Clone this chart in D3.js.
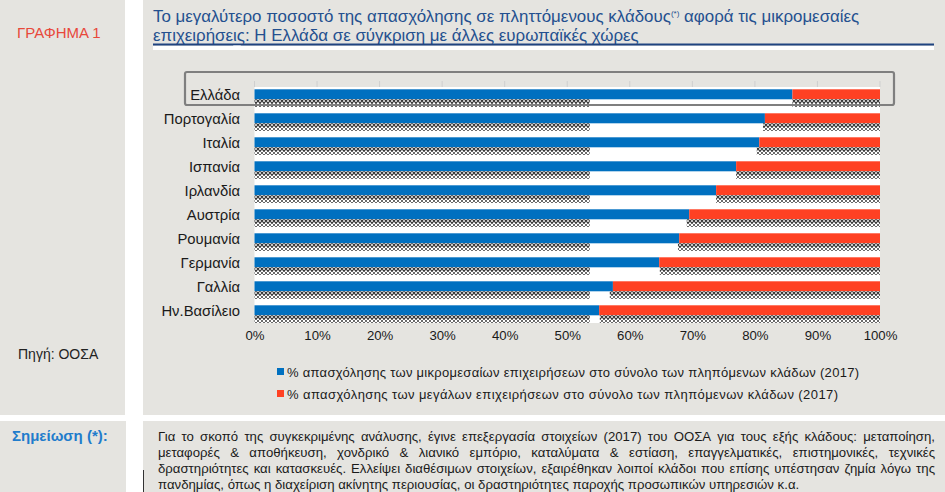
<!DOCTYPE html>
<html><head><meta charset="utf-8">
<script src="https://cdn.jsdelivr.net/npm/d3@7"></script>
<style>body{margin:0;background:#fff;} svg{display:block;font-family:"Liberation Sans",Arial,sans-serif;}</style>
</head><body>
<svg id="c" width="945" height="492"></svg>
<script>
// ---- data ----
const categories = ["Ελλάδα","Πορτογαλία","Ιταλία","Ισπανία","Ιρλανδία","Αυστρία","Ρουμανία","Γερμανία","Γαλλία","Ην.Βασίλειο"];
const smeShare   = [86.0, 81.6, 80.7, 77.0, 73.8, 69.5, 67.9, 64.7, 57.3, 55.1];
const largeShare = [14.0, 18.4, 19.3, 23.0, 26.2, 30.5, 32.1, 35.3, 42.7, 44.9];
const hatchLeftEnd    = [53.6, 53.6, 53.6, 53.6, 53.6, 53.6, 53.6, 53.6, 53.6, 53.6];
const hatchRightStart = [86.0, 81.3, 80.3, 77.0, 73.8, 69.1, 67.7, 64.8, 56.8, 55.2];
const xTicks = [0,10,20,30,40,50,60,70,80,90,100];
const legendLabels = [
  "% απασχόλησης των μικρομεσαίων επιχειρήσεων στο σύνολο των πληπόμενων κλάδων (2017)",
  "% απασχόλησης των μεγάλων επιχειρήσεων στο σύνολο των πληπόμενων κλάδων (2017)"
];
const noteLines = [
  "Για το σκοπό της συγκεκριμένης ανάλυσης, έγινε επεξεργασία στοιχείων (2017) του ΟΟΣΑ για τους εξής κλάδους: μεταποίηση,",
  "μεταφορές & αποθήκευση, χονδρικό & λιανικό εμπόριο, καταλύματα & εστίαση, επαγγελματικές, επιστημονικές, τεχνικές",
  "δραστηριότητες και κατασκευές. Ελλείψει διαθέσιμων στοιχείων, εξαιρέθηκαν λοιποί κλάδοι που επίσης υπέστησαν ζημία λόγω της",
  "πανδημίας, όπως η διαχείριση ακίνητης περιουσίας, οι δραστηριότητες παροχής προσωπικών υπηρεσιών κ.α."
];

const BLUE = "#0070c0", RED = "#ff4123", PANEL = "#e5e4e0";
const svg = d3.select("#c");

// ---- panels ----
svg.append("rect").attr("x",0).attr("y",0).attr("width",125).attr("height",415).attr("fill",PANEL);
svg.append("rect").attr("x",143).attr("y",0).attr("width",802).attr("height",415).attr("fill",PANEL);
svg.append("rect").attr("x",0).attr("y",421).attr("width",126).attr("height",71).attr("fill",PANEL);
svg.append("rect").attr("x",143).attr("y",421).attr("width",802).attr("height",71).attr("fill",PANEL);
svg.append("line").attr("x1",143.5).attr("x2",143.5).attr("y1",470).attr("y2",492).attr("stroke","#333").attr("stroke-width",1);

// ---- left texts ----
svg.append("text").attr("x",17).attr("y",38).attr("font-size",15).attr("fill","#e8483b").text("ΓΡΑΦΗΜΑ 1");
svg.append("text").attr("x",18).attr("y",359).attr("font-size",14).attr("fill","#222").text("Πηγή: ΟΟΣΑ");

// ---- title ----
const title = svg.append("g").attr("fill","#24508f").attr("font-size",16.9);
const t1 = title.append("text").attr("x",153).attr("y",22);
t1.append("tspan").text("Το μεγαλύτερο ποσοστό της απασχόλησης σε πληττόμενους κλάδους");
t1.append("tspan").attr("font-size",8).attr("dy",-6).text("(*)");
t1.append("tspan").attr("dy",6).text(" αφορά τις μικρομεσαίες");
title.append("text").attr("x",153).attr("y",41).text("επιχειρήσεις: Η Ελλάδα σε σύγκριση με άλλες ευρωπαϊκές χώρες");
svg.append("rect").attr("x",153).attr("y",46).attr("width",781).attr("height",4).attr("fill","#fff");
svg.append("rect").attr("x",153).attr("y",43.5).attr("width",781).attr("height",2).attr("fill","#1f4380");
svg.append("path").attr("d","M233,45.5 L241,45.5 L237,50 Z").attr("fill","#fff");

// ---- scales ----
const x = d3.scaleLinear().domain([0,100]).range([254.5,880]);
const y = d3.scaleBand().domain(categories).range([87,327]).paddingInner(0).paddingOuter(0);

// ---- pattern ----
const defs = svg.append("defs");
const pat = defs.append("pattern").attr("id","hatch").attr("patternUnits","userSpaceOnUse")
  .attr("width",4).attr("height",8).attr("patternTransform","translate(0,"+(y(categories[0])+12)+")");
pat.append("rect").attr("width",4).attr("height",8).attr("fill","#fff");
pat.append("path").attr("d","M0,0 L4,4 M4,0 L0,4").attr("stroke","#333").attr("stroke-width",1.2);
pat.append("path").attr("d","M0,4 L4,8 M4,4 L0,8").attr("stroke","#6a6a6a").attr("stroke-width",1.0);

// gridline stubs above plot
svg.append("g").selectAll("line").data(xTicks).join("line")
  .attr("x1",d=>x(d)).attr("x2",d=>x(d)).attr("y1",81).attr("y2",87)
  .attr("stroke","#cfcfcf").attr("stroke-width",1);

// white plot area
svg.append("rect").attr("x",x(0)).attr("y",87).attr("width",x(100)-x(0)).attr("height",236).attr("fill","#fff");

const rows = categories.map((c,i)=>({c, sme:smeShare[i], large:largeShare[i], hl:hatchLeftEnd[i], hr:hatchRightStart[i]}));
const g = svg.append("g");
g.selectAll(".b").data(rows).join("rect")
  .attr("x",x(0)).attr("y",d=>y(d.c)+2.3).attr("width",d=>x(d.sme)-x(0)).attr("height",10).attr("fill",BLUE);
g.selectAll(".r").data(rows).join("rect")
  .attr("x",d=>x(d.sme)).attr("y",d=>y(d.c)+2.3).attr("width",d=>x(d.sme+d.large)-x(d.sme)).attr("height",10).attr("fill",RED);
g.selectAll(".hl").data(rows).join("rect")
  .attr("x",x(0)).attr("y",d=>y(d.c)+12.3).attr("width",d=>x(d.hl)-x(0)).attr("height",7.7).attr("fill","url(#hatch)");
g.selectAll(".hr").data(rows).join("rect")
  .attr("x",d=>x(d.hr)).attr("y",d=>y(d.c)+12.3).attr("width",d=>x(100)-x(d.hr)).attr("height",7.7).attr("fill","url(#hatch)");

// category labels
svg.append("g").attr("font-size",14.8).attr("fill","#1a1a1a").attr("text-anchor","end")
  .selectAll("text").data(categories).join("text")
  .attr("x",240).attr("y",d=>y(d)+13).text(d=>d);

// x axis labels
const xAxis = d3.axisBottom(x).tickValues(xTicks).tickFormat(d=>d+"%").tickSize(0).tickPadding(0);
const ax = svg.append("g").attr("transform","translate(0,331)").call(xAxis);
ax.select(".domain").remove();
ax.selectAll("text").attr("font-size",13.2).attr("fill","#1a1a1a").attr("font-family","Liberation Sans, Arial, sans-serif");

// Greece highlight box
svg.append("rect").attr("x",185).attr("y",72).attr("width",709).attr("height",33).attr("rx",2)
  .attr("fill","none").attr("stroke","#7f7f7f").attr("stroke-width",2.2);

// legend
const legColors = [BLUE, RED];
const leg = svg.append("g");
legendLabels.forEach((t,i)=>{
  const yy = 377 + i*22;
  leg.append("rect").attr("x",277).attr("y",yy-9).attr("width",7).attr("height",7).attr("fill",legColors[i]);
  leg.append("text").attr("x",287).attr("y",yy).attr("font-size",13).attr("fill","#1a1a1a")
    .attr("textLength", i===0?572:551).attr("lengthAdjust","spacing").text(t);
});

// note
svg.append("text").attr("x",12).attr("y",441).attr("font-size",15).attr("font-weight","bold").attr("fill","#1f7ccc").text("Σημείωση (*):");
const noteG = svg.append("g").attr("font-size",13.2).attr("fill","#1a1a1a");
const L = 158, R = 935;
noteLines.forEach((line,i)=>{
  const yy = 441 + i*16;
  const words = line.split(" ");
  if (i === noteLines.length-1) {
    noteG.append("text").attr("x",L).attr("y",yy).text(line);
    return;
  }
  const ts = words.map(w=>noteG.append("text").attr("y",yy).text(w));
  const widths = ts.map(t=>t.node().getComputedTextLength());
  const total = d3.sum(widths);
  const gap = (R-L-total)/(words.length-1);
  let cx = L;
  ts.forEach((t,k)=>{ t.attr("x",cx); cx += widths[k]+gap; });
});
</script>
</body></html>
